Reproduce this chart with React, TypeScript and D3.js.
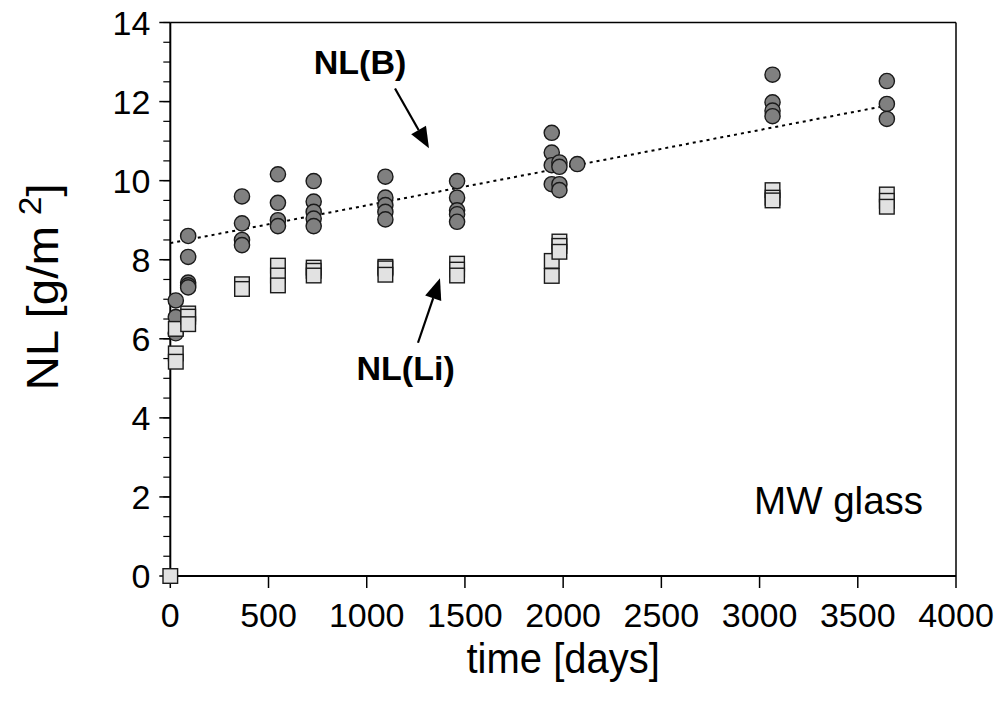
import React from "react";
import * as d3 from "d3";

// ---- data ----
const bDays = [28, 28, 28, 91, 91, 91, 91, 91, 365, 365, 365, 365, 548, 548, 548, 548, 730, 730, 730, 730, 730, 1095, 1095, 1095, 1095, 1095, 1460, 1460, 1460, 1460, 1460, 1942, 1942, 1942, 1942, 1981, 1981, 1981, 1981, 2072, 3066, 3066, 3066, 3066, 3648, 3648, 3648];
const bValues = [6.97, 6.55, 6.14, 8.6, 8.07, 7.42, 7.35, 7.3, 9.6, 8.92, 8.5, 8.37, 10.16, 9.44, 9.0, 8.85, 9.99, 9.47, 9.21, 9.04, 8.85, 10.1, 9.57, 9.38, 9.21, 9.02, 9.99, 9.57, 9.25, 9.15, 8.96, 11.21, 10.71, 10.39, 9.91, 10.46, 10.35, 9.91, 9.76, 10.42, 12.68, 11.98, 11.77, 11.63, 12.52, 11.94, 11.56];

const liDays = [0, 28, 28, 28, 91, 91, 91, 365, 365, 548, 548, 548, 730, 730, 730, 1095, 1095, 1095, 1460, 1460, 1460, 1942, 1942, 1981, 1981, 1981, 3066, 3066, 3066, 3648, 3648, 3648];
const liValues = [0, 6.25, 5.63, 5.42, 6.64, 6.56, 6.37, 7.38, 7.26, 7.85, 7.6, 7.35, 7.8, 7.72, 7.6, 7.82, 7.78, 7.62, 7.9, 7.75, 7.6, 7.97, 7.59, 8.46, 8.35, 8.2, 9.76, 9.57, 9.5, 9.65, 9.49, 9.34];

const trendDays = [0, 3650];
const trendValues = [8.42, 11.9];

const xTicks = [0, 500, 1000, 1500, 2000, 2500, 3000, 3500, 4000];
const yTicks = [0, 2, 4, 6, 8, 10, 12, 14];
const yMinorTicks = d3.range(0, 14.01, 0.5);

// annotations in data units
const labelB = { text: "NL(B)", day: 966, value: 12.71 };
const arrowB = { fromDay: 1144, fromValue: 12.33, toDay: 1317, toValue: 10.82 };
const labelLi = { text: "NL(Li)", day: 1198, value: 4.96 };
const arrowLi = { fromDay: 1261, fromValue: 5.9, toDay: 1373, toValue: 7.53 };
const labelGlass = { text: "MW glass", day: 2972, value: 1.57 };

const W = 999;
const H = 707;
const left = 170.3;
const right = 956;
const top = 22.5;
const bottom = 576;

const FONT = "'Liberation Sans', Arial, sans-serif";

function Arrow({ x1, y1, x2, y2 }: { x1: number; y1: number; x2: number; y2: number }) {
  const ang = Math.atan2(y2 - y1, x2 - x1);
  const len = 21;
  const half = 8.5;
  const bx = x2 - len * Math.cos(ang);
  const by = y2 - len * Math.sin(ang);
  const px = -Math.sin(ang);
  const py = Math.cos(ang);
  const pts = `${x2},${y2} ${bx + half * px},${by + half * py} ${bx - half * px},${by - half * py}`;
  return (
    <g>
      <line x1={x1} y1={y1} x2={bx} y2={by} stroke="#000" strokeWidth={2.2} />
      <polygon points={pts} fill="#000" />
    </g>
  );
}

export default function App() {
  const x = d3.scaleLinear().domain([0, 4000]).range([left, right]);
  const y = d3.scaleLinear().domain([0, 14]).range([bottom, top]);
  const line = d3
    .line<number>()
    .x((_, i) => x(trendDays[i]))
    .y((d) => y(d));

  return (
    <svg
      width={W}
      height={H}
      style={{ position: "absolute", left: 0, top: 0, background: "#fff" }}
      fontFamily={FONT}
    >
      <rect x={0} y={0} width={W} height={H} fill="#fff" />
      {/* frame */}
      <line x1={left} y1={top} x2={right} y2={top} stroke="#000" strokeWidth={1.5} />
      <line x1={right} y1={top} x2={right} y2={bottom} stroke="#000" strokeWidth={1.5} />
      <line x1={left} y1={top} x2={left} y2={bottom} stroke="#000" strokeWidth={2} />
      <line x1={left} y1={bottom} x2={right} y2={bottom} stroke="#000" strokeWidth={2} />

      {/* y minor ticks */}
      {yMinorTicks.map((t) => (
        <line key={"m" + t} x1={left - 7} x2={left} y1={y(t)} y2={y(t)} stroke="#000" strokeWidth={1.2} />
      ))}
      {/* y major ticks */}
      {yTicks.map((t) => (
        <g key={"y" + t}>
          <line x1={left - 11} x2={left} y1={y(t)} y2={y(t)} stroke="#000" strokeWidth={1.5} />
          <text x={left - 20} y={y(t)} dy="0.36em" textAnchor="end" fontSize={34}>
            {t}
          </text>
        </g>
      ))}
      {/* x ticks */}
      {xTicks.map((t) => (
        <g key={"x" + t}>
          <line x1={x(t)} x2={x(t)} y1={bottom} y2={bottom + 12} stroke="#000" strokeWidth={1.5} />
          <text x={x(t)} y={bottom + 51} textAnchor="middle" fontSize={34}>
            {t}
          </text>
        </g>
      ))}

      {/* axis titles */}
      <text transform={`translate(${(left + right) / 2},673) scale(1,1.08)`} textAnchor="middle" fontSize={40}>
        time [days]
      </text>
      <text transform={`translate(58,287) rotate(-90) scale(1.08,1)`} textAnchor="middle" fontSize={44}>
        NL [g/m
        <tspan dx={10} dy={-17} fontSize={31}>2</tspan>
        <tspan dy={17}>]</tspan>
      </text>

      {/* trend line */}
      <path d={line(trendValues) || ""} fill="none" stroke="#000" strokeWidth={2} strokeDasharray="3,4" />

      {/* NL(B) circles */}
      {bDays.map((d, i) => (
        <circle key={"b" + i} cx={x(d)} cy={y(bValues[i])} r={7.6} fill="#808080" stroke="#1a1a1a" strokeWidth={1.4} />
      ))}
      {/* NL(Li) squares */}
      {liDays.map((d, i) => (
        <rect
          key={"l" + i}
          x={x(d) - 7.3}
          y={y(liValues[i]) - 7.3}
          width={14.6}
          height={14.6}
          fill="#e2e2e2"
          stroke="#1a1a1a"
          strokeWidth={1.4}
        />
      ))}

      {/* annotations */}
      <text x={x(labelB.day)} y={y(labelB.value)} textAnchor="middle" fontSize={34} fontWeight="bold">
        {labelB.text}
      </text>
      <Arrow x1={x(arrowB.fromDay)} y1={y(arrowB.fromValue)} x2={x(arrowB.toDay)} y2={y(arrowB.toValue)} />
      <text x={x(labelLi.day)} y={y(labelLi.value)} textAnchor="middle" fontSize={34} fontWeight="bold">
        {labelLi.text}
      </text>
      <Arrow x1={x(arrowLi.fromDay)} y1={y(arrowLi.fromValue)} x2={x(arrowLi.toDay)} y2={y(arrowLi.toValue)} />
      <text x={x(labelGlass.day)} y={y(labelGlass.value)} textAnchor="start" fontSize={38.5}>
        {labelGlass.text}
      </text>
    </svg>
  );
}
